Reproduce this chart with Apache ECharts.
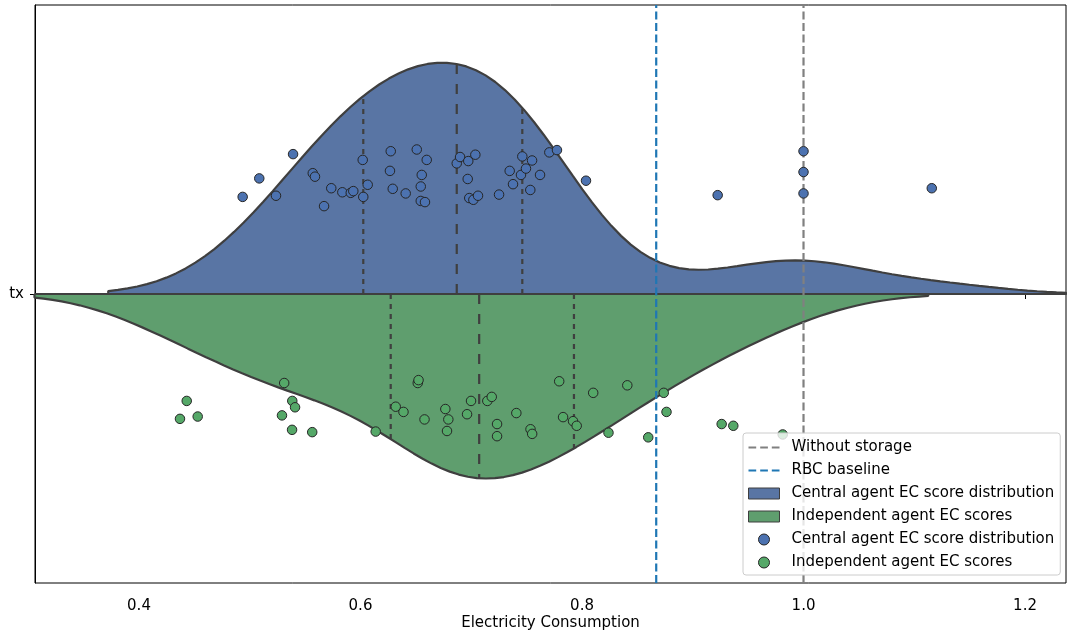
<!DOCTYPE html>
<html><head><meta charset="utf-8">
<script src="https://cdn.jsdelivr.net/npm/echarts@6/dist/echarts.min.js"></script>
<style>html,body{margin:0;padding:0;background:#fff}#c{width:1067px;height:632px}</style>
</head><body><div id="c"></div>
<script>
// ---- data ----
const categoryLabel = 'tx';
const centralX = [0.4936,0.5086,0.5237,0.5391,0.5569,0.5589,0.5671,0.5736,0.5836,0.5912,0.5935,0.6020,0.6025,0.6065,0.6266,0.6273,0.6291,0.6408,0.6508,0.6544,0.6544,0.6553,0.6582,0.6598,0.6869,0.6899,0.6968,0.6973,0.6982,0.7019,0.7037,0.7061,0.7251,0.7347,0.7377,0.7449,0.7461,0.7494,0.7533,0.7549,0.7621,0.7705,0.7774,0.8036,0.9225,1.0,1.0,1.0,1.1158];
const centralJitter = [0.168,0.200,0.170,0.242,0.209,0.203,0.152,0.183,0.176,0.175,0.178,0.232,0.168,0.189,0.213,0.247,0.182,0.174,0.250,0.186,0.161,0.206,0.159,0.232,0.226,0.237,0.199,0.230,0.166,0.163,0.241,0.170,0.172,0.213,0.190,0.206,0.238,0.217,0.180,0.231,0.206,0.245,0.249,0.196,0.171,0.247,0.211,0.174,0.183];
const independentX = [0.4370,0.4431,0.4530,0.5291,0.5311,0.5382,0.5384,0.5409,0.5564,0.6137,0.6318,0.6388,0.6517,0.6524,0.6578,0.6766,0.6781,0.6793,0.6962,0.6998,0.7145,0.7185,0.7233,0.7233,0.7407,0.7535,0.7550,0.7794,0.7829,0.7919,0.7952,0.8101,0.8239,0.8409,0.8598,0.8738,0.8763,0.9261,0.9366,0.9812];
const independentJitter = [-0.216,-0.185,-0.212,-0.210,-0.154,-0.235,-0.185,-0.196,-0.239,-0.238,-0.195,-0.204,-0.154,-0.149,-0.217,-0.199,-0.237,-0.217,-0.208,-0.185,-0.185,-0.178,-0.225,-0.246,-0.206,-0.234,-0.242,-0.151,-0.213,-0.220,-0.228,-0.171,-0.240,-0.158,-0.248,-0.171,-0.204,-0.225,-0.228,-0.243];
const xTicks = [0.4, 0.6, 0.8, 1.0, 1.2];
const withoutStorage = 1.0;
const rbcBaseline = 0.867;

const NAME_WO = 'Without storage';
const NAME_RBC = 'RBC baseline';
const NAME_C = 'Central agent EC score distribution';
const NAME_I = 'Independent agent EC scores';
const NAME_C_PTS = NAME_C + '\u200b';
const NAME_I_PTS = NAME_I + '\u200b';

// ---- violin statistics (gaussian KDE, Scott bandwidth, cut = 2) ----
function kde(arr) {
  const n = arr.length;
  const mean = arr.reduce((a, b) => a + b, 0) / n;
  const sd = Math.sqrt(arr.reduce((a, b) => a + (b - mean) * (b - mean), 0) / (n - 1));
  const bw = sd * Math.pow(n, -0.2);
  const lo = Math.min(...arr) - 2 * bw, hi = Math.max(...arr) + 2 * bw;
  const dens = x => {
    let s = 0;
    for (const v of arr) { const z = (x - v) / bw; s += Math.exp(-0.5 * z * z); }
    return s / (n * bw * Math.sqrt(2 * Math.PI));
  };
  const grid = [];
  for (let i = 0; i < 100; i++) { const x = lo + (hi - lo) * i / 99; grid.push([x, dens(x)]); }
  return { grid, dens, lo, hi };
}
function pct(arr, p) {
  const s = [...arr].sort((a, b) => a - b);
  const idx = p * (s.length - 1), i = Math.floor(idx), f = idx - i;
  return i + 1 < s.length ? s[i] + f * (s[i + 1] - s[i]) : s[i];
}
const kC = kde(centralX), kI = kde(independentX);
const maxD = Math.max(...kC.grid.map(g => g[1]), ...kI.grid.map(g => g[1]));
const halfWidth = 0.4;
const sc = halfWidth / maxD;
const violinC = [[kC.lo, 0], ...kC.grid.map(g => [g[0], g[1] * sc]), [kC.hi, 0]];
const violinI = [[kI.lo, 0], ...kI.grid.map(g => [g[0], -g[1] * sc]), [kI.hi, 0]];

const GRAY = '#3f3f3f';
const series = [
  { name: NAME_C, type: 'line', data: violinC, symbol: 'none', z: 1,
    lineStyle: { color: GRAY, width: 2.2 }, itemStyle: { color: '#5975a4' },
    areaStyle: { color: '#5975a4', opacity: 1 } },
  { name: NAME_I, type: 'line', data: violinI, symbol: 'none', z: 1,
    lineStyle: { color: GRAY, width: 2.2 }, itemStyle: { color: '#5f9e6e' },
    areaStyle: { color: '#5f9e6e', opacity: 1 } },
  { type: 'line', data: [[Math.min(kC.lo, kI.lo), 0], [Math.max(kC.hi, kI.hi), 0]], symbol: 'none', z: 2,
    lineStyle: { color: GRAY, width: 2.2 } }
];
[[centralX, kC, 1], [independentX, kI, -1]].forEach(([arr, k, sign]) => {
  [0.25, 0.5, 0.75].forEach(p => {
    const q = pct(arr, p);
    series.push({ type: 'line', symbol: 'none', z: 2,
      data: [[q, 0], [q, sign * k.dens(q) * sc]],
      lineStyle: { color: GRAY, width: 2.2, type: p === 0.5 ? [10, 10] : [5, 5] } });
  });
});
series.push(
  { name: NAME_WO, type: 'line', symbol: 'none', z: 3, data: [[withoutStorage, -0.5], [withoutStorage, 0.5]],
    itemStyle: { color: '#808080' }, lineStyle: { color: '#808080', width: 2.2, type: [8, 3.5] } },
  { name: NAME_RBC, type: 'line', symbol: 'none', z: 3, data: [[rbcBaseline, -0.5], [rbcBaseline, 0.5]],
    itemStyle: { color: '#1f77b4' }, lineStyle: { color: '#1f77b4', width: 2.2, type: [8, 3.5] } },
  { name: NAME_C_PTS, type: 'scatter', z: 4, symbolSize: 9.5,
    data: centralX.map((x, i) => [x, centralJitter[i]]),
    itemStyle: { color: '#4c72b0', borderColor: '#262626', borderWidth: 1, opacity: 1 } },
  { name: NAME_I_PTS, type: 'scatter', z: 4, symbolSize: 9.5,
    data: independentX.map((x, i) => [x, independentJitter[i]]),
    itemStyle: { color: '#55a868', borderColor: '#262626', borderWidth: 1, opacity: 1 } }
);

const dashIcon = 'path://M0,0h7.7v2h-7.7z M11.7,0h7.7v2h-7.7z M23.3,0h7.7v2h-7.7z';
const FONT = 'DejaVu Sans';
const option = {
  animation: false,
  textStyle: { fontFamily: FONT },
  grid: { left: 35, right: 1, top: 5, bottom: 49, show: true, borderColor: '#000', borderWidth: 1,
    backgroundColor: 'transparent', containLabel: false, outerBoundsMode: 'none' },
  xAxis: {
    type: 'value', min: 0.3061, max: 1.2370,
    name: 'Electricity Consumption', nameLocation: 'middle', nameGap: 33, nameMoveOverlap: false,
    nameTextStyle: { fontFamily: FONT, fontSize: 15, color: '#000' },
    axisLine: { show: true, lineStyle: { color: '#000', width: 1 } },
    axisTick: { show: true, length: 5, customValues: xTicks, lineStyle: { color: '#000', width: 1 } },
    axisLabel: { customValues: xTicks, formatter: v => Number(v).toFixed(1), margin: 16,
      fontFamily: FONT, fontSize: 15, color: '#000' },
    splitLine: { show: false }
  },
  yAxis: {
    type: 'value', min: -0.5, max: 0.5,
    axisLine: { show: true, lineStyle: { color: '#000', width: 1 } },
    axisTick: { show: true, length: 5, customValues: [0], lineStyle: { color: '#000', width: 1 } },
    axisLabel: { customValues: [0], formatter: () => categoryLabel, margin: 11,
      fontFamily: FONT, fontSize: 15, color: '#000', padding: [2, 0, 0, 0] },
    splitLine: { show: false }
  },
  legend: {
    orient: 'vertical', left: 743, top: 433, z: 10,
    selectedMode: false,
    itemWidth: 31, itemHeight: 11, itemGap: 8,
    padding: [7, 6, 5, 5],
    backgroundColor: 'rgba(255,255,255,0.8)', borderColor: '#cccccc', borderWidth: 1, borderRadius: 3,
    textStyle: { fontFamily: FONT, fontSize: 15, color: '#000', lineHeight: 14, padding: [0, 0, 0, 7] },
    data: [
      { name: NAME_WO, icon: dashIcon, itemStyle: { color: '#808080', borderWidth: 0 } },
      { name: NAME_RBC, icon: dashIcon, itemStyle: { color: '#1f77b4', borderWidth: 0 } },
      { name: NAME_C, icon: 'rect', itemStyle: { color: '#5975a4', borderColor: GRAY, borderWidth: 1 } },
      { name: NAME_I, icon: 'rect', itemStyle: { color: '#5f9e6e', borderColor: GRAY, borderWidth: 1 } },
      { name: NAME_C_PTS, icon: 'circle', itemStyle: { color: '#4c72b0', borderColor: '#262626', borderWidth: 1 } },
      { name: NAME_I_PTS, icon: 'circle', itemStyle: { color: '#55a868', borderColor: '#262626', borderWidth: 1 } }
    ]
  },
  series
};
const chart = echarts.init(document.getElementById('c'), null, { renderer: 'canvas' });
chart.setOption(option);
</script></body></html>
